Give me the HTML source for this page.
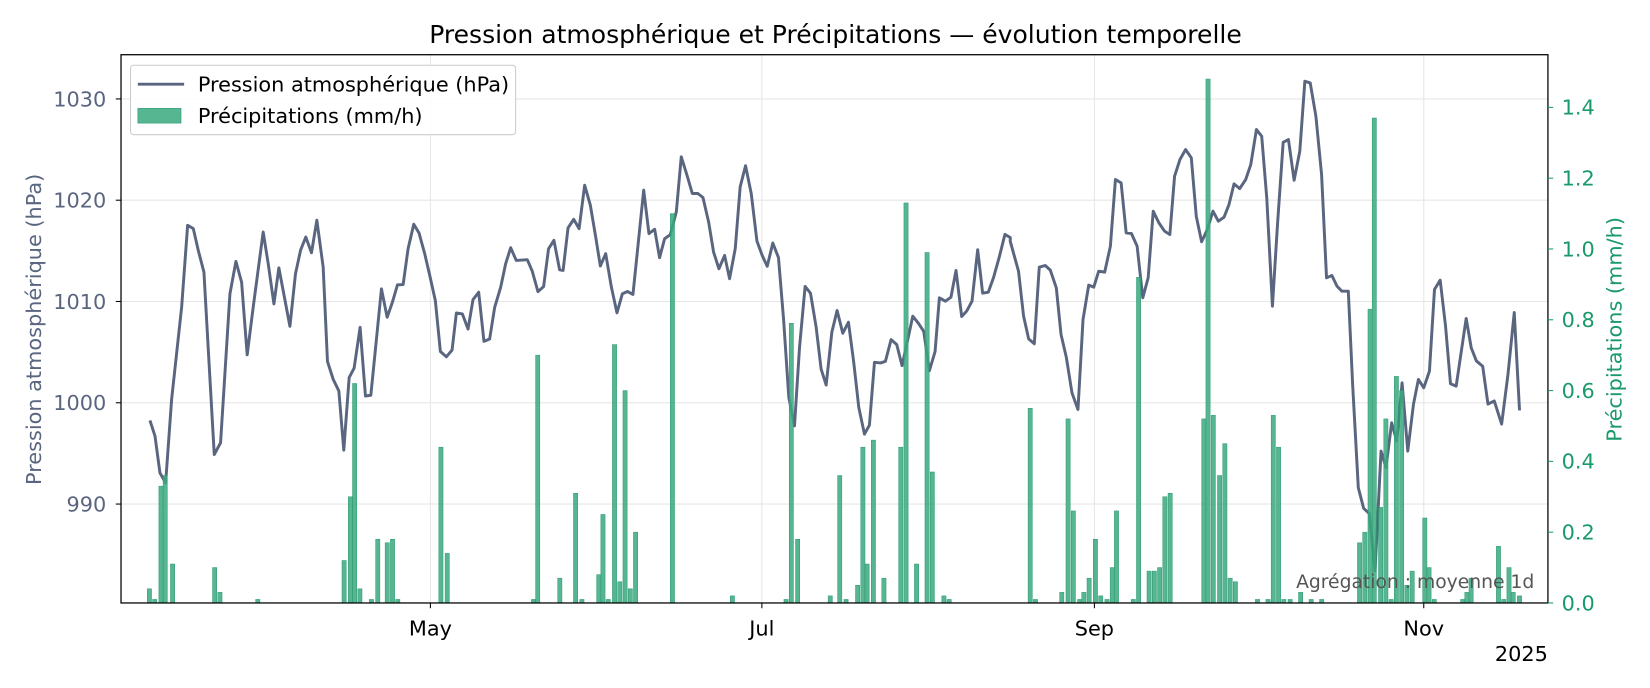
<!DOCTYPE html>
<html><head><meta charset="utf-8">
<style>
html,body{margin:0;padding:0;background:#fff;}
svg{display:block;font-family:"DejaVu Sans","Liberation Sans",sans-serif;}
</style></head>
<body>
<svg id="s" width="1650" height="688" viewBox="0 0 1650 688" xmlns="http://www.w3.org/2000/svg">
<rect width="1650" height="688" fill="#fff"/>
<g transform="scale(1.05230)">
<g id="grid" stroke="#e6e6e6" stroke-width="1"></g>
<g id="line"></g>
<g id="bars"></g>
<rect x="115" y="52" width="1356" height="521" fill="none" stroke="#000" stroke-width="1.2"/>
<g id="ticks"></g>
<text x="794" y="41" font-size="23.8" text-anchor="middle" fill="#000">Pression atmosphérique et Précipitations — évolution temporelle</text>
<text transform="translate(39,313) rotate(-90)" font-size="19.8" text-anchor="middle" fill="#5a6580">Pression atmosphérique (hPa)</text>
<text transform="translate(1541,313) rotate(-90)" font-size="19.8" text-anchor="middle" fill="#1a9a6a">Précipitations (mm/h)</text>
<text x="1471" y="628" font-size="19.8" text-anchor="end" fill="#000">2025</text>
<text x="1458" y="559" font-size="17.8" text-anchor="end" fill="#555">Agrégation : moyenne 1d</text>
<g>
<rect x="124" y="62" width="366" height="66" rx="3" fill="#fff" fill-opacity="0.85" stroke="#ccc"/>
<line x1="131" y1="80" x2="175" y2="80" stroke="#5a6580" stroke-width="2.8"/>
<rect x="131" y="103" width="41" height="14" fill="#3aa97f" fill-opacity="0.85" stroke="#2e9a72" stroke-width="0.6"/>
<text x="188" y="87" font-size="19.8" fill="#000">Pression atmosphérique (hPa)</text>
<text x="188" y="117" font-size="19.8" fill="#000">Précipitations (mm/h)</text>
</g>
</g>
</svg>
<script>
var NS="http://www.w3.org/2000/svg";
function el(t,a,p){var e=document.createElementNS(NS,t);for(var k in a)e.setAttribute(k,a[k]);if(p)p.appendChild(e);return e;}
function Yp(p){return 94+(1030-p)*9.625;}
var grid=document.getElementById('grid'),ticks=document.getElementById('ticks');
[1030,1020,1010,1000,990].forEach(function(p){var y=Yp(p);
 el('line',{x1:115,x2:1471,y1:y,y2:y},grid);
 el('line',{x1:110,x2:115,y1:y,y2:y,stroke:'#000'},ticks);
 var t=el('text',{x:101,y:y+7,'font-size':19.8,'text-anchor':'end',fill:'#5a6580'},ticks);t.textContent=p;});
[[409,'May'],[724,'Jul'],[1040,'Sep'],[1353,'Nov']].forEach(function(d){
 el('line',{x1:d[0],x2:d[0],y1:52,y2:573},grid);
 el('line',{x1:d[0],x2:d[0],y1:573,y2:578,stroke:'#000'},ticks);
 var t=el('text',{x:d[0],y:604,'font-size':19.8,'text-anchor':'middle',fill:'#000'},ticks);t.textContent=d[1];});
for(var i=0;i<=7;i++){var v=i*0.2,y=573-v*336.4;
 el('line',{x1:1471,x2:1476,y1:y,y2:y,stroke:'#1a9a6a'},ticks);
 var t=el('text',{x:1484,y:y+7,'font-size':19.8,fill:'#1a9a6a'},ticks);t.textContent=v.toFixed(1);}
var z1=[105,808,120,855,135,965,152,995,170,745,200,470,218,225,235,235,250,300,267,365,283,650,298,910,317,875,345,430,363,333,380,395,397,612,415,470,445,245,460,340,477,460,492,352,525,527,542,370,557,300,573,260,590,307,606,210,625,350,638,632,655,685,672,720,687,897,703,680,718,652,736,530,752,735,768,733,800,415,817,500,833,455,848,403,865,402,880,295,897,222,913,248,930,310,945,375,962,450,977,602,995,618,1012,598,1025,487,1043,490,1060,535,1075,447,1092,425,1108,572,1125,565,1140,470,1158,410,1173,340,1188,292,1205,330,1238,328,1253,362,1270,423,1287,408,1302,295,1318,270,1335,358];
var z2=[0,390,15,263,32,237,48,265,65,135,82,195,98,290,112,377,128,340,145,440,162,517,178,460,193,453,210,462,242,150,258,280,275,267,290,352,305,295,322,283,340,215,355,50,372,105,388,160,405,160,420,172,437,245,452,335,468,385,485,345,500,415,517,325,532,140,548,77,565,160,582,302,598,345,613,378,630,308,647,352,662,535,678,770,695,855,710,620,727,438,743,458,760,560,775,685,790,733,807,575,823,510,840,578,857,545,873,665,888,800,905,880,920,853,935,665,953,667,968,662,985,597,1002,612,1018,675,1035,598,1050,527,1067,548,1083,572,1100,690,1117,633,1130,472,1148,482,1165,470,1180,390,1197,528,1212,512,1228,482,1245,328,1260,458,1277,455,1293,410,1310,350,1327,282,1343,292];
var z3=[0,510,25,600,40,735,55,803,72,818,87,588,105,583,120,597,138,650,152,790,168,858,185,965,203,1015,218,745,235,642,250,648,265,600,283,603,300,525,315,325,332,335,347,485,363,487,380,525,397,680,413,620,428,420,445,455,462,480,478,490,492,315,508,265,525,235,542,260,557,435,573,512,590,475,607,420,623,450,640,438,655,400,670,338,687,352,705,325,720,280,737,175,753,195,768,380,785,705,800,460,817,213,833,205,850,327,867,240,882,30,898,35,915,135,932,310,947,620,963,613,978,645,993,660,1012,660,1025,940,1042,1250,1058,1312,1075,1328,1092,1500,1110,1140,1125,1190,1142,1055,1157,1110,1173,935,1190,1140,1207,1000,1222,925,1238,950,1255,900,1270,655,1287,627,1303,765,1318,938,1335,945,1365,742,1380,830];
var pts=[];
for(i=0;i<z1.length;i+=2)pts.push([409+(z1[i]-947)/3.16,Yp(1020-(z1[i+1]-150)/30.27)]);
for(i=0;i<z2.length;i+=2)pts.push([724+(z2[i]-597)/3.16,Yp(1020-(z2[i+1]-180)/30.3)]);
for(i=0;i<z3.length;i+=2)pts.push([1040+(z3[i]-252)/3.15,Yp(1030-(z3[i+1]-83)/30.4)]);
[[1403,343],[1409,348],[1414,384],[1420,381],[1427,403],[1433,356],[1439,297],[1444,390]].forEach(function(p){pts.push(p);});
var d='M'+pts.map(function(p){return p[0].toFixed(1)+','+p[1].toFixed(1);}).join(' L');
el('path',{d:d,fill:'none',stroke:'#5a6580','stroke-width':2.8,'stroke-linejoin':'round'},document.getElementById('line'));
var b=[142,.04,147,.01,153,.33,157,.36,164,.11,204,.1,209,.03,245,.01,327,.12,333,.3,337,.62,342,.04,353,.01,359,.18,368,.17,373,.18,378,.01,419,.44,425,.14,507,.01,511,.7,532,.07,547,.31,553,.01,569,.08,573,.25,578,.01,584,.73,589,.06,594,.6,599,.04,604,.2,639,1.1,696,.02,747,.01,752,.79,758,.18,789,.02,798,.36,804,.01,815,.05,820,.44,824,.11,830,.46,840,.07,856,.44,861,1.13,871,.11,881,.99,886,.37,897,.02,902,.01,979,.55,984,.01,1009,.03,1015,.52,1020,.26,1026,.01,1030,.03,1035,.07,1041,.18,1046,.02,1052,.01,1057,.1,1061,.26,1077,.01,1082,.92,1092,.09,1097,.09,1102,.1,1107,.3,1112,.31,1144,.52,1148,1.48,1153,.53,1159,.36,1164,.45,1169,.07,1174,.06,1195,.01,1205,.01,1210,.53,1215,.44,1220,.01,1226,.01,1236,.03,1246,.01,1256,.01,1292,.17,1297,.2,1302,.83,1306,1.37,1312,.27,1317,.52,1322,.01,1327,.64,1332,.6,1337,.05,1342,.09,1354,.24,1358,.1,1363,.01,1390,.01,1394,.03,1398,.07,1424,.16,1429,.01,1434,.1,1438,.03,1444,.02];
var bg=document.getElementById('bars');
for(i=0;i<b.length;i+=2){var h=b[i+1]*336.4;
 el('rect',{x:b[i]-2,y:573-h,width:4,height:h,fill:'#3aa97f','fill-opacity':0.85,stroke:'#2e9a72','stroke-width':0.5},bg);}
</script>
</body></html>
